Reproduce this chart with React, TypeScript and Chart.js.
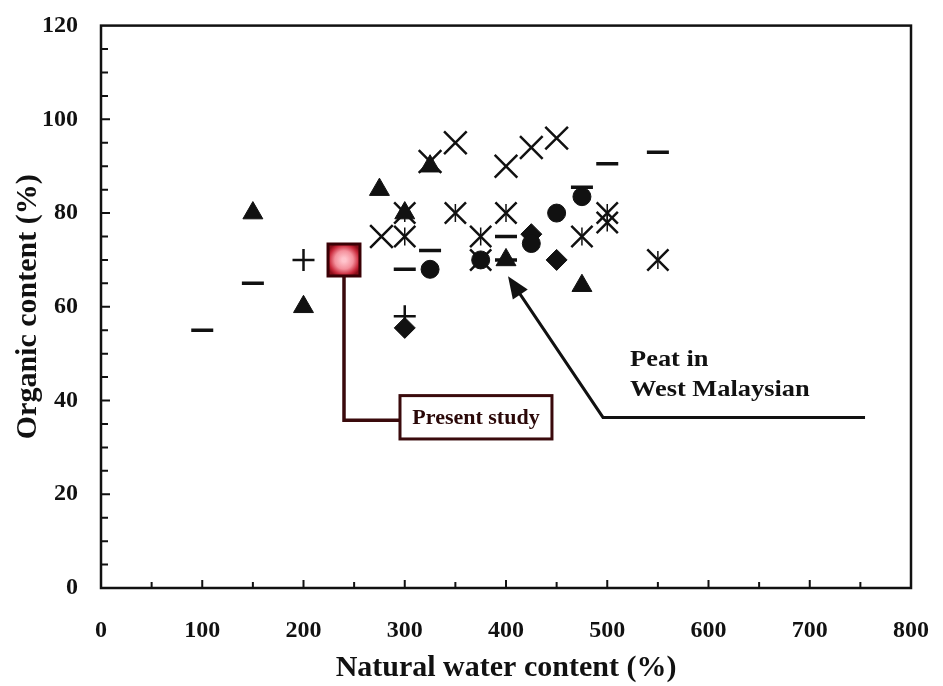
import React, { useEffect, useRef } from 'react';
import { Chart, registerables } from 'chart.js';

Chart.register(...registerables);

// ---- data ----
const xTickValues = [0, 100, 200, 300, 400, 500, 600, 700, 800];
const yTickValues = [0, 20, 40, 60, 80, 100, 120];

const presentStudy = [{ x: 240, y: 70 }];
const triangles = [
  { x: 150, y: 80 }, { x: 200, y: 60 }, { x: 275, y: 85 }, { x: 300, y: 80 },
  { x: 325, y: 90 }, { x: 400, y: 70 }, { x: 475, y: 64.5 },
];
const circles = [
  { x: 325, y: 68 }, { x: 375, y: 70 }, { x: 425, y: 73.5 }, { x: 450, y: 80 }, { x: 475, y: 83.5 },
];
const diamonds = [{ x: 300, y: 55.5 }, { x: 425, y: 75.5 }, { x: 450, y: 70 }];
const pluses = [{ x: 200, y: 70 }, { x: 300, y: 58 }];
const dashes = [
  { x: 100, y: 55 }, { x: 150, y: 65 }, { x: 300, y: 68 }, { x: 325, y: 72 },
  { x: 400, y: 75 }, { x: 400, y: 70 }, { x: 475, y: 85.5 }, { x: 500, y: 90.5 }, { x: 550, y: 93 },
];
const crosses = [
  { x: 277, y: 75 }, { x: 325, y: 91 }, { x: 350, y: 95 }, { x: 400, y: 90 }, { x: 425, y: 94 }, { x: 450, y: 96 },
];
const asterisks = [
  { x: 300, y: 75 }, { x: 300, y: 80 }, { x: 350, y: 80 }, { x: 400, y: 80 }, { x: 375, y: 75 },
  { x: 375, y: 70 }, { x: 475, y: 75 }, { x: 500, y: 80 }, { x: 500, y: 78 }, { x: 550, y: 70 },
];

const xTitle = 'Natural water content (%)';
const yTitle = 'Organic content (%)';
const presentLabel = 'Present study';
const peatLabel = ['Peat in', 'West Malaysian'];

const FONT = "'Liberation Serif', 'Times New Roman', serif";
const INK = '#111111';
const MAROON = '#3a0a0c';

export default function App() {
  const ref = useRef<HTMLCanvasElement>(null);

  useEffect(() => {
    const canvas = ref.current;
    if (!canvas) return;

    const framePlugin = {
      id: 'frame',
      afterDraw(chart: any) {
        const { ctx, chartArea: a, scales } = chart;
        const xs = scales.x;
        const ys = scales.y;
        ctx.save();
        ctx.strokeStyle = INK;
        ctx.lineWidth = 2.5;
        ctx.strokeRect(a.left, a.top, a.right - a.left, a.bottom - a.top);
        ctx.lineWidth = 2;
        ctx.beginPath();
        for (let v = 50; v < 800; v += 50) {
          const px = xs.getPixelForValue(v);
          const len = v % 100 === 0 ? 8 : 6;
          ctx.moveTo(px, a.bottom);
          ctx.lineTo(px, a.bottom - len);
        }
        for (let v = 5; v < 120; v += 5) {
          const py = ys.getPixelForValue(v);
          const len = v % 20 === 0 ? 9 : 7;
          ctx.moveTo(a.left, py);
          ctx.lineTo(a.left + len, py);
        }
        ctx.stroke();
        ctx.restore();
      },
    };

    const annotationPlugin = {
      id: 'notes',
      beforeDatasetsDraw(chart: any) {
        const { ctx, scales } = chart;
        const X = (v: number) => scales.x.getPixelForValue(v);
        const Y = (v: number) => scales.y.getPixelForValue(v);
        ctx.save();
        // leader line for present study
        ctx.strokeStyle = MAROON;
        ctx.lineWidth = 3.5;
        ctx.beginPath();
        ctx.moveTo(X(240), Y(70));
        ctx.lineTo(X(240), Y(35.8));
        ctx.lineTo(X(295.3), Y(35.8));
        ctx.stroke();
        // box
        ctx.lineWidth = 3;
        ctx.fillStyle = '#ffffff';
        const bx = X(295.3), by = Y(41.05), bw = X(445.4) - X(295.3), bh = Y(31.8) - Y(41.05);
        ctx.fillRect(bx, by, bw, bh);
        ctx.strokeRect(bx, by, bw, bh);
        ctx.fillStyle = '#2a0808';
        ctx.font = `bold 22px ${FONT}`;
        ctx.textAlign = 'center';
        ctx.textBaseline = 'middle';
        ctx.fillText(presentLabel, bx + bw / 2, by + bh / 2 + 1);

        // arrow for West Malaysian peat
        const sx = X(495.8), sy = Y(36.4);
        const tx = X(402), ty = Y(66.5);
        ctx.strokeStyle = INK;
        ctx.fillStyle = INK;
        ctx.lineWidth = 3;
        ctx.beginPath();
        ctx.moveTo(X(754.6), sy);
        ctx.lineTo(sx, sy);
        const ang = Math.atan2(ty - sy, tx - sx);
        const headLen = 22;
        const hx = tx - Math.cos(ang) * headLen * 0.8;
        const hy = ty - Math.sin(ang) * headLen * 0.8;
        ctx.lineTo(hx, hy);
        ctx.stroke();
        ctx.beginPath();
        ctx.moveTo(tx, ty);
        ctx.lineTo(tx - Math.cos(ang) * headLen + Math.sin(ang) * 9, ty - Math.sin(ang) * headLen - Math.cos(ang) * 9);
        ctx.lineTo(tx - Math.cos(ang) * headLen - Math.sin(ang) * 9, ty - Math.sin(ang) * headLen + Math.cos(ang) * 9);
        ctx.closePath();
        ctx.fill();

        // label text
        ctx.font = `bold 24px ${FONT}`;
        ctx.textAlign = 'left';
        ctx.textBaseline = 'alphabetic';
        const lines = [Y(47.4), Y(41.05)];
        peatLabel.forEach((t, i) => {
          ctx.save();
          ctx.translate(X(522.5), lines[i]);
          ctx.scale(1.1, 1);
          ctx.fillText(t, 0, 0);
          ctx.restore();
        });
        ctx.restore();
      },
    };

    const squareFill = (c: any) => {
      const chart = c.chart;
      const sc = chart.scales;
      if (!c.parsed || !sc || !sc.x || !sc.y) return '#f07080';
      const px = sc.x.getPixelForValue(c.parsed.x);
      const py = sc.y.getPixelForValue(c.parsed.y);
      if (!isFinite(px) || !isFinite(py)) return '#f07080';
      const g = chart.ctx.createRadialGradient(px, py, 2, px, py, 18);
      g.addColorStop(0, '#ffc4cc');
      g.addColorStop(0.45, '#f4909c');
      g.addColorStop(0.8, '#c8283a');
      g.addColorStop(1, '#8a0d18');
      return g;
    };

    const noPad = (s: any) => {
      s.paddingTop = 0;
      s.paddingBottom = 0;
      s.paddingLeft = 0;
      s.paddingRight = 0;
    };

    const solid = { backgroundColor: INK, borderColor: INK };

    const chart = new Chart(canvas, {
      type: 'scatter',
      data: {
        datasets: [
          {
            label: 'Present study', data: presentStudy, pointStyle: 'rect', pointRadius: 22.6,
            pointBackgroundColor: squareFill as any, pointBorderColor: '#3a0005', pointBorderWidth: 3,
          },
          { label: 'Triangles', data: triangles, pointStyle: 'triangle', pointRadius: 11.5, pointBorderWidth: 1, ...solid },
          { label: 'Circles', data: circles, pointStyle: 'circle', pointRadius: 9, pointBorderWidth: 1, ...solid },
          { label: 'Diamonds', data: diamonds, pointStyle: 'rectRot', pointRadius: 10.5, pointBorderWidth: 1, ...solid },
          { label: 'Plus', data: pluses, pointStyle: 'cross', pointRadius: 11, pointBorderWidth: 2.5, ...solid },
          { label: 'Dash', data: dashes, pointStyle: 'line', pointRadius: 11, pointBorderWidth: 3.5, ...solid },
          { label: 'Cross', data: crosses, pointStyle: 'crossRot', pointRadius: 16, pointBorderWidth: 2.5, ...solid },
          { label: 'Asterisk', data: asterisks, pointStyle: 'crossRot', pointRadius: 15, pointBorderWidth: 2.5, ...solid },
          { label: 'AsteriskV', data: asterisks, pointStyle: 'line', pointRotation: 90, pointRadius: 9, pointBorderWidth: 1.5, ...solid },
        ] as any,
      },
      options: {
        responsive: false,
        animation: false,
        events: [],
        layout: { padding: { top: 18, right: 32, left: 0, bottom: 0 } },
        plugins: {
          legend: { display: false },
          tooltip: { enabled: false },
        },
        scales: {
          x: {
            type: 'linear',
            min: 0,
            max: 800,
            afterBuildTicks: (s: any) => { s.ticks = xTickValues.map((v) => ({ value: v })); },
            afterFit: (s: any) => { s.height = 98; noPad(s); },
            grid: { display: false, drawTicks: false },
            border: { display: false },
            ticks: { padding: 28, color: INK, font: { family: FONT, size: 24, weight: 'bold' }, maxRotation: 0 },
            title: {
              display: true, text: xTitle, color: INK,
              font: { family: FONT, size: 30, weight: 'bold' }, padding: { top: 0, bottom: 0 },
            },
          },
          y: {
            type: 'linear',
            min: 0,
            max: 120,
            afterBuildTicks: (s: any) => { s.ticks = yTickValues.map((v) => ({ value: v })); },
            afterFit: (s: any) => { s.width = 101; noPad(s); },
            grid: { display: false, drawTicks: false },
            border: { display: false },
            ticks: { padding: 23, color: INK, font: { family: FONT, size: 24, weight: 'bold' } },
            title: {
              display: true, text: yTitle, color: INK,
              font: { family: FONT, size: 30, weight: 'bold' }, padding: { top: 10, bottom: 0 },
            },
          },
        },
      } as any,
      plugins: [framePlugin, annotationPlugin],
    });

    return () => chart.destroy();
  }, []);

  return (
    <div style={{ position: 'fixed', left: 0, top: 0, width: 943, height: 686, background: '#ffffff' }}>
      <canvas ref={ref} width={943} height={686} style={{ display: 'block' }} />
    </div>
  );
}
